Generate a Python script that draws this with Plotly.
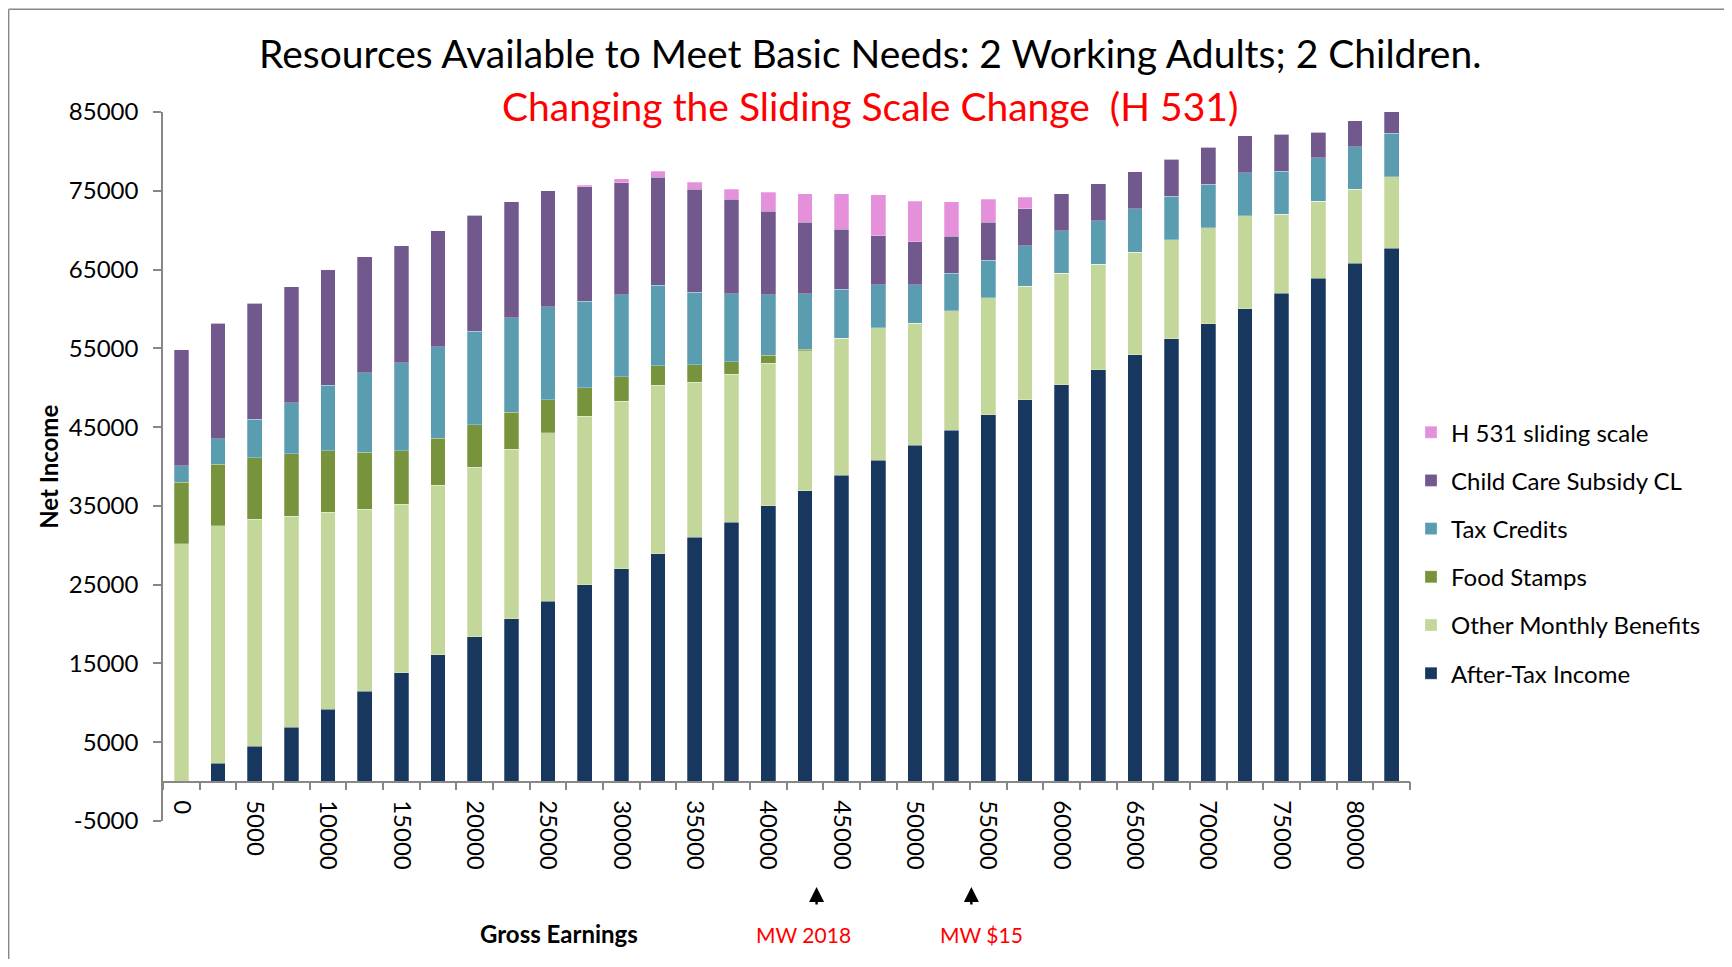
import plotly.graph_objects as go

# ---------------- data ----------------
gross_earnings = [0, 2500, 5000, 7500, 10000, 12500, 15000, 17500, 20000, 22500,
                  25000, 27500, 30000, 32500, 35000, 37500, 40000, 42500, 45000, 47500,
                  50000, 52500, 55000, 57500, 60000, 62500, 65000, 67500, 70000, 72500,
                  75000, 77500, 80000, 82500]

after_tax_income = [0, 2300, 4500, 6900, 9200, 11500, 13800, 16100, 18400, 20700,
                    22900, 25000, 27000, 28900, 31000, 32900, 35000, 36900, 38900, 40800,
                    42700, 44600, 46600, 48500, 50400, 52300, 54200, 56200, 58100, 60000,
                    62000, 63900, 65800, 67700]

other_monthly_benefits = [30200, 30200, 28800, 26800, 25000, 23100, 21400, 21500, 21500, 21500,
                          21400, 21400, 21300, 21400, 19700, 18800, 18100, 17800, 17400, 16800,
                          15500, 15200, 14800, 14400, 14100, 13400, 13000, 12600, 12200, 11800,
                          10000, 9800, 9400, 9100]

food_stamps = [7800, 7800, 7800, 7900, 7800, 7200, 6800, 6000, 5400, 4700,
               4200, 3600, 3100, 2500, 2200, 1600, 1000, 200, 0, 0,
               0, 0, 0, 0, 0, 0, 0, 0, 0, 0,
               0, 0, 0, 0]

tax_credits = [2100, 3200, 4900, 6500, 8300, 10100, 11200, 11600, 11900, 12000,
               11800, 11000, 10400, 10200, 9200, 8600, 7700, 7000, 6200, 5500,
               4900, 4700, 4800, 5100, 5400, 5500, 5500, 5500, 5500, 5500,
               5500, 5500, 5400, 5500]

child_care_subsidy = [14700, 14700, 14700, 14700, 14700, 14700, 14800, 14700, 14700, 14700,
                      14700, 14500, 14200, 13700, 13100, 12000, 10600, 9100, 7600, 6200,
                      5400, 4700, 4800, 4700, 4700, 4700, 4700, 4700, 4700, 4700,
                      4700, 3200, 3300, 2800]

h531_sliding_scale = [0, 0, 0, 0, 0, 0, 0, 0, 0, 0,
                      0, 200, 500, 800, 900, 1300, 2400, 3600, 4500, 5200,
                      5200, 4400, 2900, 1500, 0, 0, 0, 0, 0, 0,
                      0, 0, 0, 0]

series_names = ["After-Tax Income", "Other Monthly Benefits", "Food Stamps",
                "Tax Credits", "Child Care Subsidy CL", "H 531 sliding scale"]

x_tick_values = gross_earnings[::2]
x_tick_labels = [str(v) for v in x_tick_values]
y_tick_values = [-5000, 5000, 15000, 25000, 35000, 45000, 55000, 65000, 75000, 85000]
y_tick_labels = [str(v) for v in y_tick_values]

mw_markers = [43300, 53850]
mw_labels = ["MW 2018", "MW $15"]

# ---------------- styling / geometry ----------------
colors = ["#17375E", "#C4D79B", "#77933C", "#5A9CB0", "#72598D", "#E590DA"]
FONT = "Lato"
BODY = 8                      # default page margin around the plot div
W, H = 1732 - 2 * BODY, 967 - 2 * BODY
# plot area in page pixels
PX0, PX1 = 163.3, 1410.0
PY0, PY1 = 111.7, 821.0       # top (85000) and bottom (-5000)
L = PX0 - BODY
R = W - (PX1 - BODY)
T = PY0 - BODY
B = H - (PY1 - BODY)


def px_x(page_x):
    return (page_x - PX0) / (PX1 - PX0)


def px_y(page_y):
    return (PY1 - page_y) / (PY1 - PY0)


series_values = [after_tax_income, other_monthly_benefits, food_stamps,
                 tax_credits, child_care_subsidy, h531_sliding_scale]

fig = go.Figure()
for i, (name, vals, col) in enumerate(zip(series_names, series_values, colors)):
    fig.add_trace(go.Bar(
        x=gross_earnings, y=vals, name=name,
        marker=dict(color=col, line=dict(color="rgba(255,255,255,0.45)", width=0.6)),
        legendgroup=name, legendrank=len(series_names) - i,
    ))

boundaries = [g - 1250 for g in gross_earnings] + [gross_earnings[-1] + 1250]

fig.update_layout(
    width=W, height=H,
    margin=dict(l=L, r=R, t=T, b=B, autoexpand=False),
    barmode="stack", bargap=0.6,
    plot_bgcolor="white", paper_bgcolor="white",
    font=dict(family=FONT, color="black", size=24),
    showlegend=True,
    legend=dict(
        x=px_x(1411), xanchor="left", y=px_y(553), yanchor="middle",
        traceorder="grouped", tracegroupgap=14,
        font=dict(family=FONT, size=24, color="black"),
        itemwidth=30, bgcolor="rgba(0,0,0,0)",
    ),
    xaxis=dict(
        range=[-1250, gross_earnings[-1] + 1250],
        tickmode="array", tickvals=x_tick_values, ticktext=x_tick_labels,
        tickangle=90, ticks="outside", ticklen=13, tickcolor="rgba(0,0,0,0)",
        tickfont=dict(family=FONT, size=24, color="black"),
        showline=True, linecolor="#878787", linewidth=1.5,
        showgrid=False, zeroline=False,
        anchor="free", position=5000 / 90000,
        minor=dict(tickmode="array", tickvals=boundaries, ticks="outside",
                   ticklen=8, tickcolor="#878787", tickwidth=1.5, showgrid=False),
    ),
    yaxis=dict(
        range=[-5000, 85000],
        tickmode="array", tickvals=y_tick_values, ticktext=y_tick_labels,
        ticks="outside", ticklen=8, tickcolor="#878787", tickwidth=1.5,
        ticklabelstandoff=10,
        tickfont=dict(family=FONT, size=24, color="black"),
        showline=True, linecolor="#878787", linewidth=1.5,
        showgrid=False, zeroline=False,
    ),
)

annotations = [
    dict(text="Resources Available to Meet Basic Needs: 2 Working Adults; 2 Children.",
         x=px_x(870), y=px_y(53), xref="paper", yref="paper", showarrow=False,
         font=dict(family=FONT, size=39, color="black"), xanchor="center", yanchor="middle"),
    dict(text="Changing the Sliding Scale Change  (H 531)",
         x=px_x(870), y=px_y(106), xref="paper", yref="paper", showarrow=False,
         font=dict(family=FONT, size=39, color="#FF0000"), xanchor="center", yanchor="middle"),
    dict(text="<b>Net Income</b>", textangle=-90,
         x=px_x(48), y=px_y(467), xref="paper", yref="paper", showarrow=False,
         font=dict(family=FONT, size=24, color="black"), xanchor="center", yanchor="middle"),
    dict(text="<b>Gross Earnings</b>",
         x=px_x(559), y=px_y(934), xref="paper", yref="paper", showarrow=False,
         font=dict(family=FONT, size=24, color="black"), xanchor="center", yanchor="middle"),
]
for xv in mw_markers:
    annotations.append(dict(text="", x=xv, y=px_y(887), xref="x", yref="paper",
                            showarrow=True, ax=0, ay=19, arrowhead=2, arrowsize=1.25,
                            arrowwidth=2.4, arrowcolor="black"))
for lab, page_x in zip(mw_labels, [804, 981.7]):
    annotations.append(dict(text=lab, x=px_x(page_x), y=px_y(935), xref="paper",
                            yref="paper", showarrow=False, xanchor="center", yanchor="middle",
                            font=dict(family=FONT, size=21, color="#FF0000")))
fig.update_layout(annotations=annotations)

# chart frame (page coordinates)
frame = dict(color="#888888", width=1.5)
fig.add_shape(type="line", xref="paper", yref="paper", x0=px_x(9), x1=px_x(1740),
              y0=px_y(9), y1=px_y(9), line=frame)
fig.add_shape(type="line", xref="paper", yref="paper", x0=px_x(9), x1=px_x(9),
              y0=px_y(9), y1=px_y(980), line=frame)

fig.write_html("out.html")
